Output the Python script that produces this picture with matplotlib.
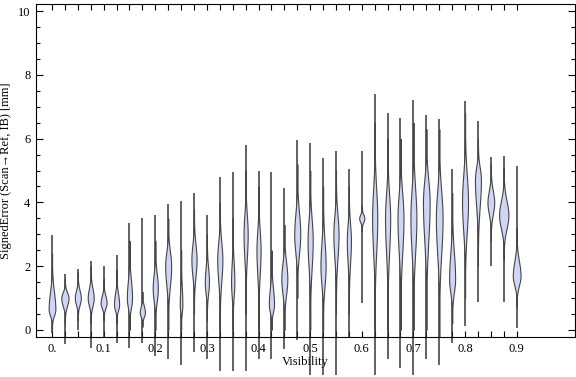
import numpy as np
import matplotlib
matplotlib.use("Agg")
import matplotlib.pyplot as plt

plt.rcParams['font.family'] = ['Liberation Serif', 'DejaVu Serif']

# visibility bins (one violin per bin)
visibility = [round(0.025 * i, 3) for i in range(37)]

# whisker extent (min / max of signed error, mm)
whisk_lo = [-0.10, -0.45, 0.00, -0.55, -0.25, -0.40, -0.55, -0.40, -0.80, -0.90,
            -1.10, -0.70, -0.90, -1.30, -1.30, -1.30, -0.90, -0.90, -0.60, -0.30,
            -1.40, -1.40, -1.40, -0.25, 0.85, -1.40, -0.90, -1.20, -1.40, -0.90,
            -1.10, -0.40, 0.12, 0.87, 2.00, 0.87, 0.06]
whisk_hi = [2.98, 1.75, 1.90, 2.15, 2.00, 2.35, 3.35, 3.50, 3.60, 3.95,
            4.05, 4.30, 3.60, 4.80, 4.95, 5.80, 5.00, 4.95, 4.45, 5.95,
            5.85, 5.40, 5.60, 5.05, 5.60, 7.40, 6.80, 6.65, 7.20, 6.75,
            6.60, 5.05, 7.18, 6.55, 5.43, 5.45, 5.14]

# density body: lower end, mode, upper end, half width at mode (Visibility units)
body_lo = [0.0, 0.2, 0.3, 0.2, 0.3, 0.2, 0.0, 0.1, 0.0, 0.0,
           0.0, 0.5, 0.3, 0.0, 0.0, 0.5, 0.0, 0.0, 0.0, 1.0,
           0.0, 0.0, 0.5, 0.5, 3.1, 0.0, 0.0, 0.0, 0.0, 0.0,
           -0.2, 0.2, 1.0, 2.0, 2.8, 2.2, 0.7]
body_mode = [0.65, 1.0, 1.0, 1.0, 0.85, 0.8, 1.0, 0.55, 1.3, 2.0,
             0.8, 2.2, 1.5, 2.2, 1.5, 3.0, 2.5, 0.8, 1.6, 3.0,
             2.8, 2.0, 3.0, 2.8, 3.5, 3.5, 3.5, 3.5, 3.5, 4.0,
             3.5, 1.6, 4.0, 4.7, 4.0, 3.6, 1.7]
body_hi = [2.4, 1.6, 1.8, 2.0, 1.6, 1.9, 2.8, 1.2, 2.8, 3.5,
           2.5, 3.8, 3.0, 4.0, 3.5, 5.0, 4.5, 2.5, 3.3, 5.2,
           5.0, 4.5, 5.0, 4.5, 3.9, 6.5, 6.0, 6.0, 6.5, 6.3,
           6.3, 4.3, 6.8, 6.0, 5.2, 5.1, 3.2]
body_w = [0.0065, 0.0070, 0.0058, 0.0058, 0.0058, 0.0050, 0.0050, 0.0050, 0.0050, 0.0058,
          0.0025, 0.0050, 0.0040, 0.0050, 0.0032, 0.0040, 0.0040, 0.0050, 0.0058, 0.0058,
          0.0050, 0.0050, 0.0050, 0.0040, 0.0050, 0.0050, 0.0050, 0.0058, 0.0058, 0.0065,
          0.0065, 0.0058, 0.0058, 0.0058, 0.0065, 0.0090, 0.0075]

fig = plt.figure(figsize=(5.76, 3.77), dpi=100)
ax = fig.add_axes([36 / 576, 40 / 377, 539 / 576, 333 / 377])

for x, lo, hi, b0, m, b1, w in zip(visibility, whisk_lo, whisk_hi,
                                   body_lo, body_mode, body_hi, body_w):
    ax.plot([x, x], [lo, hi], color='#2e2e2e', lw=1.4, alpha=0.75,
            solid_capstyle='butt', clip_on=False, zorder=2)
    y = np.linspace(b0, b1, 150)
    s = np.where(y < m, (m - y) / (m - b0), (y - m) / (b1 - m))
    hw = w * np.exp(-4.5 * s ** 2) * (1 - s ** 2)
    ax.fill_betweenx(y, x - hw, x + hw, facecolor='#cfd5f5',
                     edgecolor='#454545', lw=0.8, zorder=3, clip_on=False)

ax.set_xlim(-0.031, 1.013)
ax.set_ylim(-0.22, 10.22)

ax.set_xticks(visibility, minor=True)
ax.set_xticks([0.1 * k for k in range(10)])
ax.set_xticklabels(['0.'] + ['%.1f' % (0.1 * k) for k in range(1, 10)])
ax.set_yticks(range(0, 11, 2))
ax.set_yticks(np.arange(0, 10.01, 0.5), minor=True)

ax.tick_params(which='both', direction='in', top=True, right=True,
               labelsize=9, width=0.8, pad=4)
ax.tick_params(axis='x', which='both', length=4)
ax.tick_params(axis='y', which='major', length=5)
ax.tick_params(axis='y', which='minor', length=3)
for sp in ax.spines.values():
    sp.set_linewidth(0.8)

ax.set_xlabel('Visibility', fontsize=9, labelpad=1)
ax.set_ylabel('SignedError (Scan\u2192Ref, IB) [mm]', fontsize=9, labelpad=4)

fig.savefig('out.png', dpi=100)
